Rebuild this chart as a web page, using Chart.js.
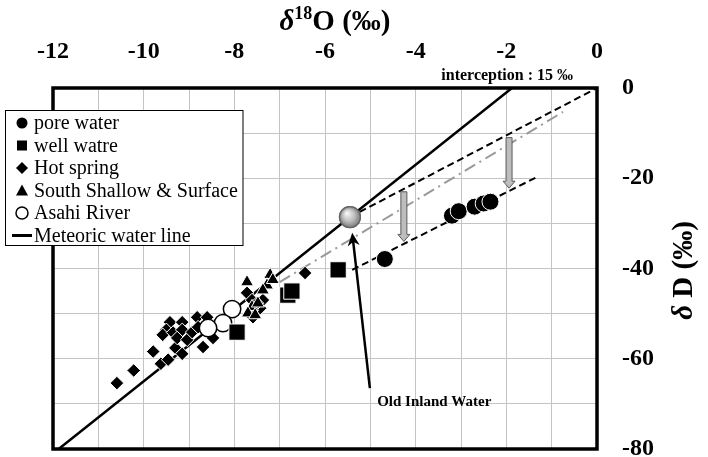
<!DOCTYPE html>
<html>
<head>
<meta charset="utf-8">
<script src="https://cdn.jsdelivr.net/npm/chart.js@4"></script>
<style>
  html, body { margin: 0; padding: 0; background: #fff; }
</style>
</head>
<body>
<canvas id="c" width="708" height="457"></canvas>
<script>
// axis ranges
const xMin = -12, xMax = 0;
const yMin = -80, yMax = 0;

// pore water
const poreX = [-4.68, -3.20, -3.05, -2.70, -2.50, -2.35];
const poreY = [-37.9, -28.3, -27.3, -26.3, -25.6, -25.2];
// well water
const wellX = [-5.71, -6.82, -6.73, -7.94];
const wellY = [-40.3, -45.9, -45.0, -54.1];
// hot spring
const hotX = [-10.59, -10.22, -9.79, -9.62, -9.46, -9.30, -9.15, -9.42, -9.50, -9.58, -9.35, -9.15, -9.15, -9.26,
              -9.04, -8.93, -8.82, -8.60, -8.69, -8.47, -8.80, -7.72, -7.61, -7.59, -7.43, -7.37, -7.50, -6.44];
const hotY = [-65.4, -62.6, -58.4, -61.1, -60.2, -57.6, -58.9, -51.9, -53.6, -54.7, -54.2, -51.9, -53.6, -55.4,
              -55.8, -54.1, -50.8, -50.8, -57.4, -55.4, -53.0, -45.4, -47.0, -50.8, -48.8, -47.0, -47.7, -41.0];
// south shallow & surface
const southX = [-7.72, -7.21, -7.28, -7.37, -7.61, -7.48, -7.70, -7.54, -7.15];
const southY = [-43.0, -41.4, -43.7, -44.8, -48.5, -47.7, -49.9, -50.3, -42.5];
// asahi river
const asahiX = [-8.05, -8.25, -8.58];
const asahiY = [-49.0, -52.1, -53.2];
// old inland water
const oldX = [-5.45];
const oldY = [-28.6];

// lines
const mwlX = [-11.875, -1.875];   // dD = 8 d18O + 15
const mwlY = [-80, 0];
const upperX = [-5.45, 0];
const upperY = [-28.6, 0];
const lowerX = [-5.40, -1.32];
const lowerY = [-40.3, -19.7];
const trendX = [-7.0, -0.75];
const trendY = [-43.0, -5.3];

// grey shift arrows
const shiftX = [-4.26, -1.94];
const shiftTop = [-23.0, -11.0];
const shiftBottom = [-34.0, -22.2];

// pointer to the old inland water
const pointerTail = [-5.01, -66.5];
const pointerHead = [-5.40, -32.1];
const pointerText = [-4.85, -69.6];

const serif = "'Liberation Serif', 'Times New Roman', serif";

function pts(xs, ys) {
  return xs.map((v, i) => ({ x: v, y: ys[i] }));
}

function drawMarker(ctx, style, x, y) {
  ctx.save();
  ctx.fillStyle = '#000';
  ctx.strokeStyle = '#000';
  ctx.beginPath();
  if (style === 'circle') {
    ctx.arc(x, y, 5.5, 0, Math.PI * 2);
    ctx.fill();
  } else if (style === 'rect') {
    ctx.fillRect(x - 5, y - 5, 10, 10);
  } else if (style === 'rectRot') {
    ctx.moveTo(x, y - 6); ctx.lineTo(x + 6, y); ctx.lineTo(x, y + 6); ctx.lineTo(x - 6, y);
    ctx.closePath(); ctx.fill();
  } else if (style === 'triangle') {
    ctx.moveTo(x, y - 6); ctx.lineTo(x + 6, y + 5); ctx.lineTo(x - 6, y + 5);
    ctx.closePath(); ctx.fill();
  } else if (style === 'open') {
    ctx.fillStyle = '#fff';
    ctx.lineWidth = 1.5;
    ctx.arc(x, y, 6, 0, Math.PI * 2);
    ctx.fill(); ctx.stroke();
  } else if (style === 'line') {
    ctx.lineWidth = 3;
    ctx.moveTo(x - 10, y); ctx.lineTo(x + 10, y);
    ctx.stroke();
  }
  ctx.restore();
}

const decor = {
  id: 'decor',
  afterDatasetsDraw(chart) {
    const { ctx, chartArea: a } = chart;
    const sx = chart.scales.x, sy = chart.scales.y;
    ctx.save();

    // shade the old inland water sphere
    chart.data.datasets.forEach((d, di) => {
      if (!d.sphere) return;
      chart.getDatasetMeta(di).data.forEach(el => {
        const r = d.pointRadius;
        const g = ctx.createRadialGradient(el.x - 3, el.y - 4, 1, el.x, el.y, r);
        g.addColorStop(0, '#f2f2f2');
        g.addColorStop(0.55, '#bcbcbc');
        g.addColorStop(1, '#7a7a7a');
        ctx.beginPath();
        ctx.arc(el.x, el.y, r, 0, Math.PI * 2);
        ctx.fillStyle = g;
        ctx.fill();
        ctx.strokeStyle = '#666';
        ctx.lineWidth = 1.2;
        ctx.stroke();
      });
    });

    // grey arrows
    for (let i = 0; i < shiftX.length; i++) {
      const px = sx.getPixelForValue(shiftX[i]);
      const t = sy.getPixelForValue(shiftTop[i]);
      const b = sy.getPixelForValue(shiftBottom[i]);
      const hw = 3, hh = 6, hl = 7;
      ctx.beginPath();
      ctx.moveTo(px - hw, t); ctx.lineTo(px + hw, t);
      ctx.lineTo(px + hw, b - hl); ctx.lineTo(px + hh, b - hl);
      ctx.lineTo(px, b);
      ctx.lineTo(px - hh, b - hl); ctx.lineTo(px - hw, b - hl);
      ctx.closePath();
      ctx.fillStyle = '#bdbdbd';
      ctx.fill();
      ctx.strokeStyle = '#5a5a5a';
      ctx.lineWidth = 1;
      ctx.stroke();
    }

    // pointer
    const tx = sx.getPixelForValue(pointerTail[0]), ty = sy.getPixelForValue(pointerTail[1]);
    const hx = sx.getPixelForValue(pointerHead[0]), hy = sy.getPixelForValue(pointerHead[1]);
    const ang = Math.atan2(hy - ty, hx - tx);
    ctx.strokeStyle = '#000';
    ctx.lineWidth = 2.5;
    ctx.beginPath();
    ctx.moveTo(tx, ty);
    ctx.lineTo(hx - Math.cos(ang) * 8, hy - Math.sin(ang) * 8);
    ctx.stroke();
    ctx.save();
    ctx.translate(hx, hy);
    ctx.rotate(ang);
    ctx.beginPath();
    ctx.moveTo(0, 0); ctx.lineTo(-13, -6); ctx.lineTo(-9, 0); ctx.lineTo(-13, 6);
    ctx.closePath();
    ctx.fillStyle = '#000';
    ctx.fill();
    ctx.restore();

    ctx.fillStyle = '#000';
    ctx.font = 'bold 15px ' + serif;
    ctx.textAlign = 'left';
    ctx.textBaseline = 'middle';
    ctx.fillText('Old Inland Water', sx.getPixelForValue(pointerText[0]), sy.getPixelForValue(pointerText[1]));

    // frame
    ctx.lineWidth = 3.5;
    ctx.strokeStyle = '#000';
    ctx.strokeRect(a.left, a.top, a.right - a.left, a.bottom - a.top);
    ctx.restore();
  },
  afterDraw(chart) {
    const { ctx, chartArea: a } = chart;
    ctx.save();
    ctx.fillStyle = '#000';
    ctx.textBaseline = 'alphabetic';

    // top title: δ18O (‰)
    const big = 29, small = 18;
    const f1 = 'italic bold ' + big + 'px ' + serif;
    const f2 = 'bold ' + small + 'px ' + serif;
    const f3 = 'bold ' + big + 'px ' + serif;
    ctx.font = f1; const w1 = ctx.measureText('δ').width;
    ctx.font = f2; const w2 = ctx.measureText('18').width;
    ctx.font = f3; const w3 = ctx.measureText('O (‰)').width;
    let cx = (a.left + a.right) / 2 + 10 - (w1 + w2 + w3) / 2;
    const by = 30;
    ctx.font = f1; ctx.fillText('δ', cx, by); cx += w1;
    ctx.font = f2; ctx.fillText('18', cx, by - 11); cx += w2;
    ctx.font = f3; ctx.fillText('O (‰)', cx, by);

    // right title: δ D (‰)
    ctx.save();
    ctx.translate(692, (a.top + a.bottom) / 2 + 2);
    ctx.rotate(-Math.PI / 2);
    ctx.font = 'italic bold 29px ' + serif; const d1 = ctx.measureText('δ').width;
    ctx.font = 'bold 29px ' + serif; const d2 = ctx.measureText(' D (‰)').width;
    let rx = -(d1 + d2) / 2;
    ctx.font = 'italic bold 29px ' + serif; ctx.fillText('δ', rx, 0); rx += d1;
    ctx.font = 'bold 29px ' + serif; ctx.fillText(' D (‰)', rx, 0);
    ctx.restore();

    // interception label
    ctx.font = 'bold 16px ' + serif;
    ctx.textAlign = 'right';
    ctx.fillText('interception : 15 ‰', a.right - 24, a.top - 8);

    // legend
    const lx = 5.5, ly = 110.5, lw = 237.5, lh = 135;
    ctx.fillStyle = '#fff';
    ctx.fillRect(lx, ly, lw, lh);
    ctx.strokeStyle = '#000';
    ctx.lineWidth = 1;
    ctx.strokeRect(lx, ly, lw, lh);
    ctx.font = '20px ' + serif;
    ctx.textAlign = 'left';
    ctx.textBaseline = 'middle';
    const items = chart.data.datasets.filter(d => d.legendStyle);
    items.forEach((d, i) => {
      const yy = 123 + i * 22.5;
      drawMarker(ctx, d.legendStyle, 22, yy);
      ctx.fillStyle = '#000';
      ctx.fillText(d.label, 34, yy + 1);
    });
    ctx.restore();
  }
};

new Chart(document.getElementById('c'), {
  type: 'scatter',
  data: {
    datasets: [
      {
        label: 'pore water', legendStyle: 'circle', order: 1,
        data: pts(poreX, poreY),
        pointStyle: 'circle', pointRadius: 8.5,
        backgroundColor: '#000', borderColor: '#fff', borderWidth: 1
      },
      {
        label: 'well watre', legendStyle: 'rect', order: 2,
        data: pts(wellX, wellY),
        pointStyle: 'rect', pointRadius: 11.5,
        backgroundColor: '#000', borderColor: '#fff', borderWidth: 1
      },
      {
        label: 'Hot spring', legendStyle: 'rectRot', order: 5,
        data: pts(hotX, hotY),
        pointStyle: 'rectRot', pointRadius: 6.8,
        backgroundColor: '#000', borderColor: '#fff', borderWidth: 1
      },
      {
        label: 'South Shallow & Surface', legendStyle: 'triangle', order: 4,
        data: pts(southX, southY),
        pointStyle: 'triangle', pointRadius: 7.5,
        backgroundColor: '#000', borderColor: '#fff', borderWidth: 1
      },
      {
        label: 'Asahi River', legendStyle: 'open', order: 3,
        data: pts(asahiX, asahiY),
        pointStyle: 'circle', pointRadius: 8.7,
        backgroundColor: '#fff', borderColor: '#000', borderWidth: 1.5
      },
      {
        label: 'Meteoric water line', legendStyle: 'line', order: 8,
        data: pts(mwlX, mwlY),
        showLine: true, pointRadius: 0,
        borderColor: '#000', borderWidth: 2.5
      },
      {
        label: 'Old Inland Water', sphere: true, order: 0,
        data: pts(oldX, oldY),
        pointStyle: 'circle', pointRadius: 10.5,
        backgroundColor: '#b8b8b8', borderColor: '#666', borderWidth: 1.2
      },
      {
        label: 'upper', order: 9,
        data: pts(upperX, upperY),
        showLine: true, pointRadius: 0,
        borderColor: '#000', borderWidth: 2, borderDash: [7, 4]
      },
      {
        label: 'lower', order: 9,
        data: pts(lowerX, lowerY),
        showLine: true, pointRadius: 0,
        borderColor: '#000', borderWidth: 2, borderDash: [7, 4]
      },
      {
        label: 'trend', order: 10,
        data: pts(trendX, trendY),
        showLine: true, pointRadius: 0,
        borderColor: '#999', borderWidth: 2, borderDash: [12, 5, 2, 5]
      }
    ]
  },
  options: {
    responsive: false,
    animation: false,
    devicePixelRatio: 1,
    layout: { autoPadding: false, padding: { left: 53, right: 0, top: 0, bottom: 8 } },
    plugins: { legend: { display: false }, tooltip: { enabled: false } },
    scales: {
      x: {
        type: 'linear', position: 'top', min: xMin, max: xMax,
        afterFit(s) { s.height = 88; s.paddingLeft = 0; s.paddingRight = 0; },
        border: { display: false },
        grid: { color: '#c4c4c4', lineWidth: 1, drawTicks: false },
        ticks: {
          stepSize: 1, autoSkip: false, maxRotation: 0, padding: 22, color: '#000',
          font: { family: serif, size: 24, weight: 'bold' },
          callback: v => (v % 2 === 0 ? String(v) : '')
        }
      },
      y: {
        type: 'linear', position: 'right', min: yMin, max: yMax,
        afterFit(s) { s.width = 111; s.paddingTop = 0; s.paddingBottom = 0; },
        border: { display: false },
        grid: { color: '#c4c4c4', lineWidth: 1, drawTicks: false },
        ticks: {
          stepSize: 10, autoSkip: false, padding: 25, color: '#000',
          font: { family: serif, size: 24, weight: 'bold', lineHeight: 0.6 },
          callback: v => (v % 20 === 0 ? String(v) : '')
        }
      }
    }
  },
  plugins: [decor]
});
</script>
</body>
</html>
